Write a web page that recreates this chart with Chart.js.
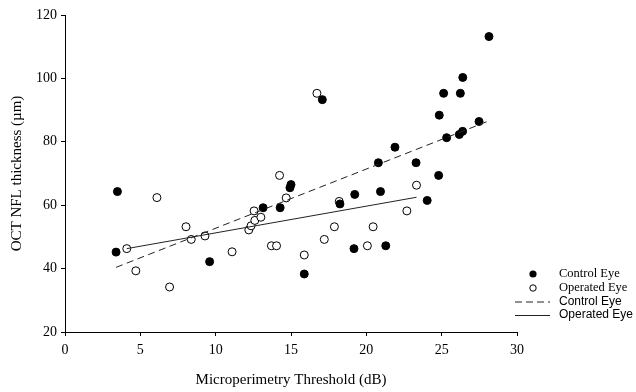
<!DOCTYPE html>
<html>
<head>
<meta charset="utf-8">
<script src="https://cdn.jsdelivr.net/npm/chart.js@4"></script>
<style>
  html, body { margin: 0; padding: 0; background: #ffffff; }
  #wrap { width: 636px; height: 392px; }
</style>
</head>
<body>
<div id="wrap"><canvas id="c" width="636" height="392"></canvas></div>
<script>
// Control eye (filled circles)
const controlX = [3.48, 3.39, 9.6, 13.15, 14.28, 14.93, 15.0, 15.88, 17.08, 18.25, 19.23, 19.18, 20.94, 20.8, 21.29, 21.9, 23.3, 24.04, 24.8, 24.84, 25.13, 25.33, 26.17, 26.39, 26.24, 26.4, 27.48, 28.14];
const controlY = [64.3, 45.2, 42.2, 59.2, 59.2, 65.5, 66.5, 38.3, 93.3, 60.4, 63.4, 46.3, 64.3, 73.4, 47.2, 78.3, 73.4, 61.5, 69.4, 88.4, 95.3, 81.3, 82.3, 83.3, 95.3, 100.3, 86.4, 113.2];
// Operated eye (open circles)
const operatedX = [4.1, 4.7, 6.1, 6.94, 8.03, 8.38, 9.29, 11.09, 12.2, 12.35, 12.55, 12.6, 13.0, 13.7, 14.04, 14.24, 14.68, 15.88, 16.72, 17.21, 17.88, 18.2, 20.07, 20.45, 22.69, 23.33];
const operatedY = [46.3, 39.3, 62.4, 34.2, 53.2, 49.2, 50.3, 45.3, 52.2, 53.5, 58.2, 55.2, 56.2, 47.2, 47.2, 69.4, 62.3, 44.3, 95.3, 49.2, 53.2, 61.2, 47.2, 53.2, 58.2, 66.3];
// Regression lines (end points)
const controlFitX = [3.39, 28.14];
const controlFitY = [40.4, 86.6];
const operatedFitX = [4.1, 23.33];
const operatedFitY = [46.3, 62.5];
// Axis ticks
const xTicks = [0, 5, 10, 15, 20, 25, 30];
const yTicks = [20, 40, 60, 80, 100, 120];
const seriesNames = ['Control Eye', 'Operated Eye'];

const toPts = (xs, ys) => xs.map((x, i) => ({ x: x, y: ys[i] }));

const legendPlugin = {
  id: 'customLegend',
  afterDraw(chart) {
    const ctx = chart.ctx;
    ctx.save();
    ctx.fillStyle = '#000';
    ctx.strokeStyle = '#000';
    ctx.textBaseline = 'middle';
    ctx.textAlign = 'left';
    // filled circle
    ctx.beginPath(); ctx.arc(533, 274, 3.6, 0, Math.PI * 2); ctx.fill();
    // open circle
    ctx.lineWidth = 1;
    ctx.beginPath(); ctx.arc(533, 288, 3.2, 0, Math.PI * 2); ctx.stroke();
    ctx.font = '12.5px "Liberation Serif", "Times New Roman", serif';
    ctx.fillText(seriesNames[0], 559, 274);
    ctx.fillText(seriesNames[1], 559, 288);
    // dashed line
    ctx.strokeStyle = '#222';
    ctx.setLineDash([7, 4]);
    ctx.beginPath(); ctx.moveTo(515, 302); ctx.lineTo(550, 302); ctx.stroke();
    ctx.setLineDash([]);
    ctx.beginPath(); ctx.moveTo(515, 315.5); ctx.lineTo(550, 315.5); ctx.stroke();
    ctx.font = '12px "Liberation Sans", Arial, sans-serif';
    ctx.fillText(seriesNames[0], 559, 302);
    ctx.fillText(seriesNames[1], 559, 315);
    ctx.restore();
  }
};

const serif = '"Liberation Serif", "Times New Roman", serif';

new Chart(document.getElementById('c'), {
  type: 'scatter',
  data: {
    datasets: [
      {
        label: seriesNames[1] + ' fit',
        type: 'line',
        data: toPts(operatedFitX, operatedFitY),
        borderColor: '#222',
        borderWidth: 1,
        pointRadius: 0,
        fill: false,
        order: 0
      },
      {
        label: seriesNames[0] + ' fit',
        type: 'line',
        data: toPts(controlFitX, controlFitY),
        borderColor: '#222',
        borderWidth: 1,
        borderDash: [7, 4.5],
        pointRadius: 0,
        fill: false,
        order: 1
      },
      {
        label: seriesNames[0],
        data: toPts(controlX, controlY),
        backgroundColor: '#000',
        borderColor: '#000',
        borderWidth: 1,
        pointRadius: 4,
        order: 2
      },
      {
        label: seriesNames[1],
        data: toPts(operatedX, operatedY),
        backgroundColor: '#fff',
        borderColor: '#000',
        borderWidth: 1,
        pointRadius: 4,
        order: 3
      }
    ]
  },
  options: {
    responsive: false,
    animation: false,
    devicePixelRatio: 1,
    layout: { padding: { top: 15, right: 119, bottom: 0, left: 0 } },
    plugins: { legend: { display: false }, tooltip: { enabled: false } },
    scales: {
      x: {
        type: 'linear',
        min: 0, max: 30,
        afterFit: (s) => { s.height = 60; },
        afterBuildTicks: (s) => { s.ticks = xTicks.map(v => ({ value: v })); },
        grid: { display: true, drawOnChartArea: false, drawTicks: true, tickLength: 4, color: '#000' },
        border: { display: true, color: '#000', width: 1 },
        ticks: { color: '#000', padding: 6, font: { family: serif, size: 14 } },
        title: { display: true, text: 'Microperimetry Threshold (dB)', color: '#000', font: { family: serif, size: 15 }, padding: { top: 0, bottom: 3 } }
      },
      y: {
        type: 'linear',
        min: 20, max: 120,
        afterFit: (s) => { s.width = 65; },
        afterBuildTicks: (s) => { s.ticks = yTicks.map(v => ({ value: v })); },
        grid: { display: true, drawOnChartArea: false, drawTicks: true, tickLength: 4, color: '#000' },
        border: { display: true, color: '#000', width: 1 },
        ticks: { color: '#000', padding: 4, font: { family: serif, size: 14 } },
        title: { display: true, text: 'OCT NFL thickness (µm)', color: '#000', font: { family: serif, size: 15 }, padding: { top: 8, bottom: 0 } }
      }
    }
  },
  plugins: [legendPlugin]
});
</script>
</body>
</html>
